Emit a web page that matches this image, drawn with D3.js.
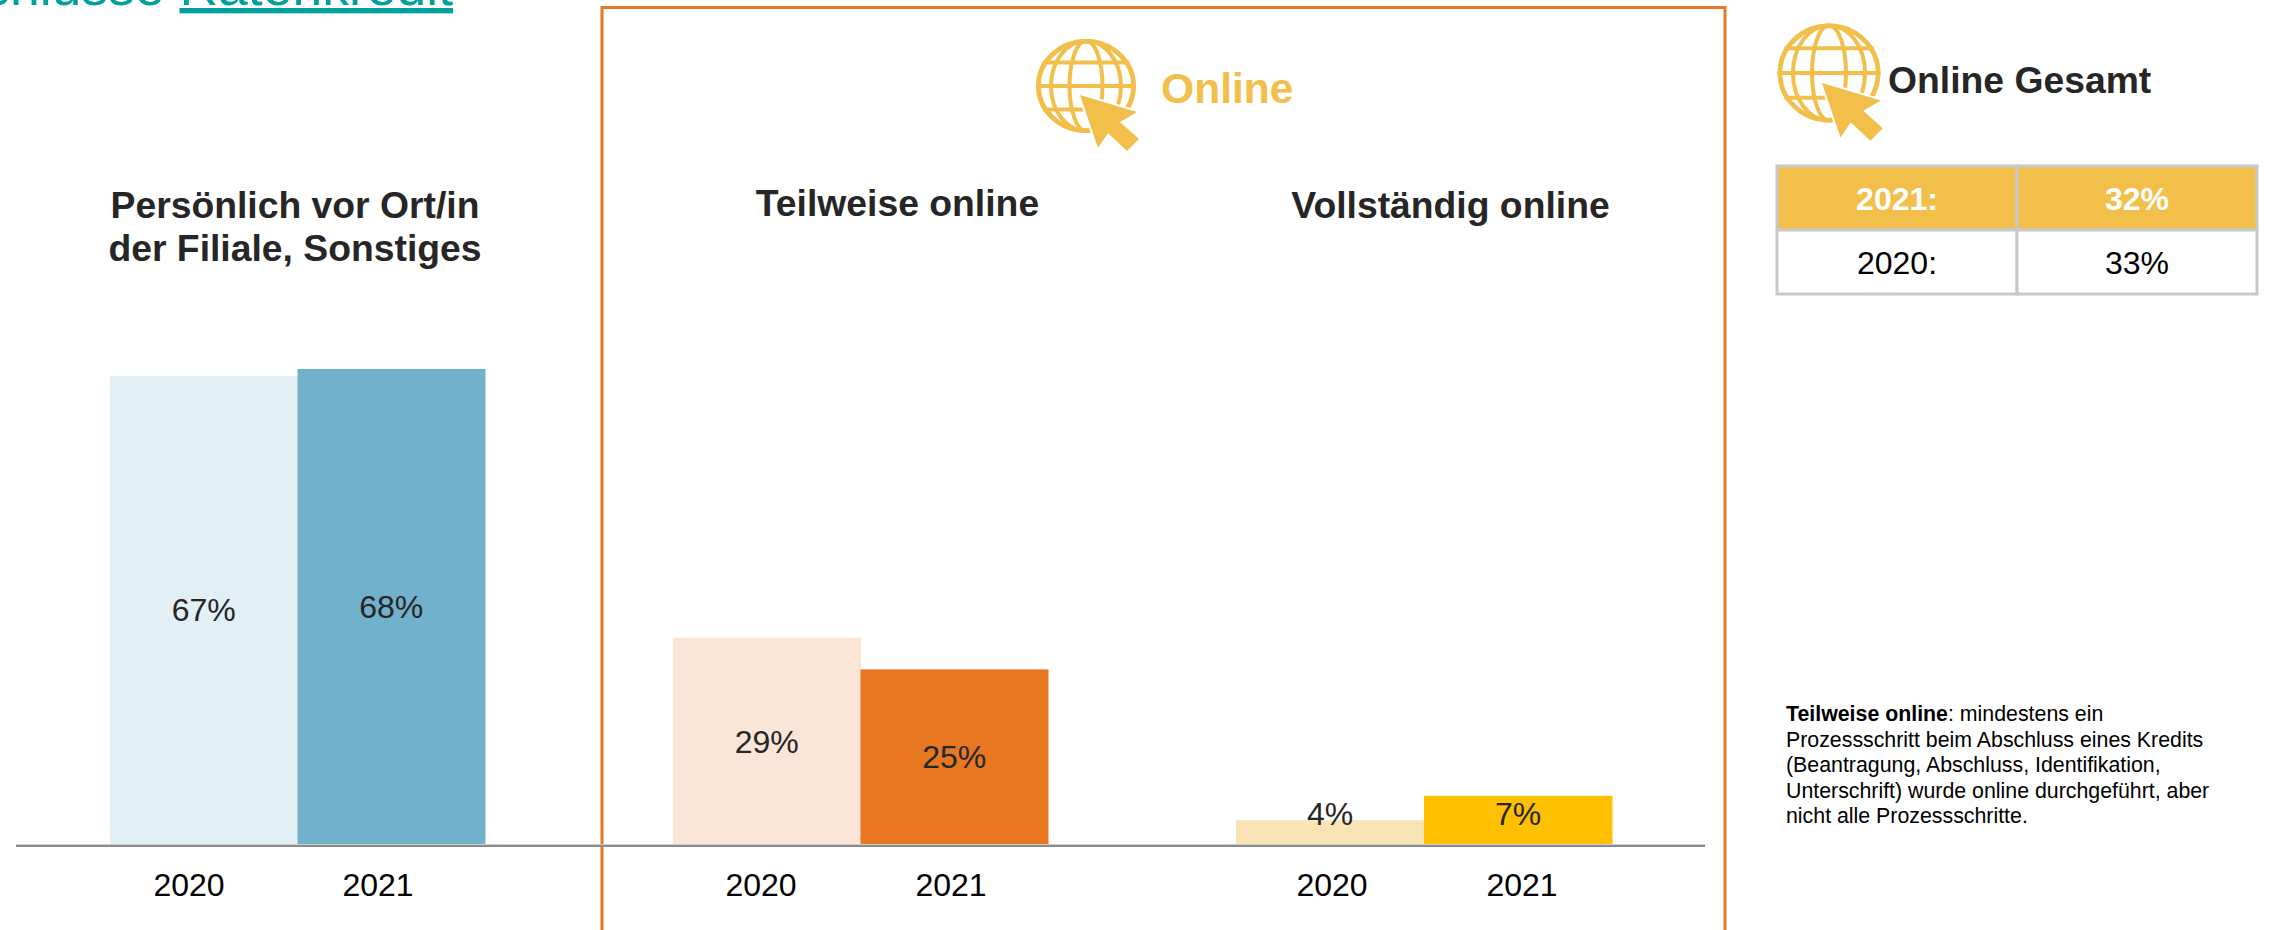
<!DOCTYPE html>
<html><head><meta charset="utf-8">
<script src="https://cdnjs.cloudflare.com/ajax/libs/d3/7.8.5/d3.min.js"></script>
<style>html,body{margin:0;padding:0;background:#fff;overflow:hidden}svg{display:block}text{font-family:"Liberation Sans",Arial,sans-serif}</style>
</head><body><svg id="c" width="2270" height="930"></svg>
<script>
const years=["2020","2021"];
const groups=["Persönlich vor Ort/in der Filiale, Sonstiges","Teilweise online","Vollständig online"];
const valuesPersoenlich=[67,68];
const valuesTeilweise=[29.5,25];
const valuesVollstaendig=[3.4,6.9];
const labelsPersoenlich=["67%","68%"];
const labelsTeilweise=["29%","25%"];
const labelsVollstaendig=["4%","7%"];
const colorsPersoenlich=["#e2eff4","#72b1cb"];
const colorsTeilweise=["#fae5d6","#e87722"];
const colorsVollstaendig=["#f9e4b6","#ffc000"];
const tableRows=[["2021:","32%"],["2020:","33%"]];
const noteLines=["Prozessschritt beim Abschluss eines Kredits","(Beantragung, Abschluss, Identifikation,","Unterschrift) wurde online durchgeführt, aber","nicht alle Prozessschritte."];

const svg=d3.select("#c");
const gold="#f2bf4a",dark="#262626",orange="#e87722",teal="#00a0a0";
const baseY=844;
const y=d3.scaleLinear().domain([0,68]).range([baseY,369]);
const panels=[
 {vals:valuesPersoenlich,labs:labelsPersoenlich,cols:colorsPersoenlich,x0:110,x1:485,tick:[189,378],ly:[610,607]},
 {vals:valuesTeilweise,labs:labelsTeilweise,cols:colorsTeilweise,x0:673,x1:1048,tick:[761,951],ly:[742,757]},
 {vals:valuesVollstaendig,labs:labelsVollstaendig,cols:colorsVollstaendig,x0:1236,x1:1612,tick:[1332,1522],ly:[814,814]}
];
// clipped heading
const h=svg.append("text").attr("x",-109).attr("y",5).attr("font-size",53.5).attr("fill",teal);
h.append("tspan").text("Abschlüsse ");
h.append("tspan").attr("style","text-decoration:underline;text-decoration-thickness:4px;text-underline-offset:6px").text("Ratenkredit");
// frame
svg.append("path").attr("d","M602 930V7.5H1725V930").attr("fill","none").attr("stroke",orange).attr("stroke-width",3);
panels.forEach(p=>{
 const x=d3.scaleBand().domain(years).range([p.x0,p.x1]);
 const g=svg.append("g");
 g.selectAll("rect").data(p.vals).join("rect")
  .attr("x",(d,i)=>x(years[i])).attr("width",x.bandwidth()+.5)
  .attr("y",d=>y(d)).attr("height",d=>baseY-y(d)).attr("fill",(d,i)=>p.cols[i]);
 g.selectAll(".v").data(p.labs).join("text").attr("class","v")
  .attr("x",(d,i)=>x(years[i])+x.bandwidth()/2).attr("y",(d,i)=>p.ly[i]+11)
  .attr("text-anchor","middle").attr("font-size",32).attr("fill",dark).text(d=>d);
 g.selectAll(".t").data(years).join("text").attr("class","t")
  .attr("x",(d,i)=>p.tick[i]).attr("y",896).attr("text-anchor","middle")
  .attr("font-size",32).attr("fill","#000").text(d=>d);
});
// axis
svg.append("line").attr("x1",16).attr("x2",1705).attr("y1",baseY+.5).attr("y2",baseY+.5).attr("stroke","#cfcfcf").attr("stroke-width",1);
svg.append("line").attr("x1",16).attr("x2",1705).attr("y1",baseY+2).attr("y2",baseY+2).attr("stroke","#8a8a8a").attr("stroke-width",2);
// titles
const title=(t,cx,yy)=>svg.append("text").attr("x",cx).attr("y",yy).attr("text-anchor","middle").attr("font-size",37.3).attr("font-weight","bold").attr("fill",dark).text(t);
const words=groups[0].split(" ");
title(words.slice(0,3).join(" "),295,218);
title(words.slice(3).join(" "),295,261);
title(groups[1],897.5,216);
title(groups[2],1450.5,218);
// globe icon
function globe(cx,cy,rx,ry,tipX,tipY,s){
 const g=svg.append("g").attr("fill","none").attr("stroke",gold);
 const sw=4;
 g.append("ellipse").attr("cx",cx).attr("cy",cy).attr("rx",rx-2.4).attr("ry",ry-2.4).attr("stroke-width",4.8);
 g.append("ellipse").attr("cx",cx).attr("cy",cy).attr("rx",rx*.33).attr("ry",ry-2).attr("stroke-width",sw);
 g.append("ellipse").attr("cx",cx).attr("cy",cy).attr("rx",rx*.7).attr("ry",ry-2).attr("stroke-width",sw);
 [-.5,0,.5].forEach(k=>{const dy=k*ry,w=rx*Math.sqrt(1-k*k);
  g.append("line").attr("x1",cx-w).attr("x2",cx+w).attr("y1",cy+dy).attr("y2",cy+dy).attr("stroke-width",sw);});
 const pts=[[0,0],[57,17],[40,27],[59,44],[47,56],[28,38],[18,53]];
 svg.append("path").attr("d",d3.line()(pts.map(q=>[tipX+q[0]*s,tipY+q[1]*s]))+"Z").attr("fill",gold).attr("stroke","#fff").attr("stroke-width",4).attr("paint-order","stroke");
}
globe(1086,86,50,47,1080,95,1);
globe(1829,73,51.5,49.5,1822,83,1.03);
svg.append("text").attr("x",1161).attr("y",103).attr("font-size",42.6).attr("font-weight","bold").attr("fill",gold).text("Online");
svg.append("text").attr("x",1888).attr("y",93).attr("font-size",37.3).attr("font-weight","bold").attr("fill",dark).text("Online Gesamt");
// table
const cols=[1777,2017,2257],rowsY=[166,230,294];
tableRows.forEach((r,i)=>{
 r.forEach((c,j)=>{
  svg.append("rect").attr("x",cols[j]).attr("y",rowsY[i]).attr("width",cols[j+1]-cols[j]).attr("height",rowsY[i+1]-rowsY[i])
   .attr("fill",i==0?gold:"#fff").attr("stroke","#c8c8c8").attr("stroke-width",3);
  svg.append("text").attr("x",(cols[j]+cols[j+1])/2).attr("y",rowsY[i]+44).attr("text-anchor","middle")
   .attr("font-size",32).attr("font-weight",i==0?"bold":"normal").attr("fill",i==0?"#fff":"#000").text(c);
 });
});
// note
const n=svg.append("text").attr("x",1786).attr("y",721).attr("font-size",21.33).attr("fill","#000");
n.append("tspan").attr("font-weight","bold").text("Teilweise online");
n.append("tspan").text(": mindestens ein");
noteLines.forEach((l,i)=>svg.append("text").attr("x",1786).attr("y",746.5+i*25.5).attr("font-size",21.33).attr("fill","#000").text(l));
</script></body></html>
